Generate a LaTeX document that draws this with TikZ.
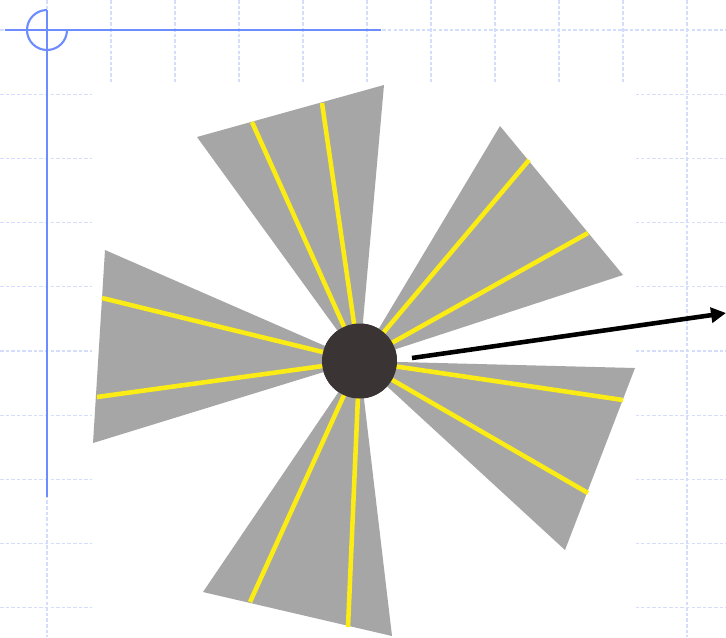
\documentclass[tikz,border=0pt]{standalone}
\usetikzlibrary{arrows.meta}
\definecolor{gridblue}{RGB}{212,222,252}
\definecolor{lineblue}{RGB}{108,140,255}
\definecolor{bladegray}{RGB}{166,166,166}
\definecolor{rayyellow}{RGB}{250,236,20}
\definecolor{hubgray}{RGB}{58,52,52}
\tikzset{
  grid line/.style={gridblue, line width=0.6pt, dash pattern=on 2pt off 1.2pt},
  frame line/.style={lineblue, line width=1.2pt},
  blade/.style={fill=bladegray},
  ray/.style={rayyellow, line width=2.6pt},
}
\begin{document}
\begin{tikzpicture}[x=0.02cm, y=-0.02cm, >={Triangle[length=8.5pt,width=8.5pt]}]
\useasboundingbox (0,0) rectangle (726,637);
\fill[white] (0,0) rectangle (726,637);

% background grid of the slide
\foreach \x in {47,111,...,687}
  \draw[grid line] (\x,0) -- (\x,637);
\foreach \y in {30,94.2,...,610}
  \draw[grid line] (0,\y) -- (726,\y);
\fill[white] (92,83) rectangle (636,637);

% corner mark
\draw[frame line] (5,30) -- (381,30);
\draw[frame line] (47,10) -- (47,497);
\draw[frame line] (47,10) arc[start angle=90, end angle=360, radius=0.4cm];

\node[circle, fill=hubgray, minimum size=1.5cm, inner sep=0] (hub) at (359.5,361) {};

% blades and their rays
\foreach \ax/\ay/\bx/\by/\px/\py/\qx/\qy in {
    197/137/384/85/252/122/322/103,
    500/126/623/275/529/160/588/233,
    635/368/565/550/623/400/588/493,
    392/636/203/592/348/627/250/602,
    93/443/105/250/97/397/102/298}
{
  \fill[blade] (hub.center) -- (\ax,\ay) -- (\bx,\by) -- cycle;
  \draw[ray] (hub.center) -- (\px,\py);
  \draw[ray] (hub.center) -- (\qx,\qy);
}
\node[circle, fill=hubgray, minimum size=1.5cm, inner sep=0] at (hub) {};

\coordinate (tail) at (412,358);
\coordinate (tip) at (726,313);
\draw[->, line width=2.6pt] (tail) -- (tip);
\end{tikzpicture}
\end{document}
